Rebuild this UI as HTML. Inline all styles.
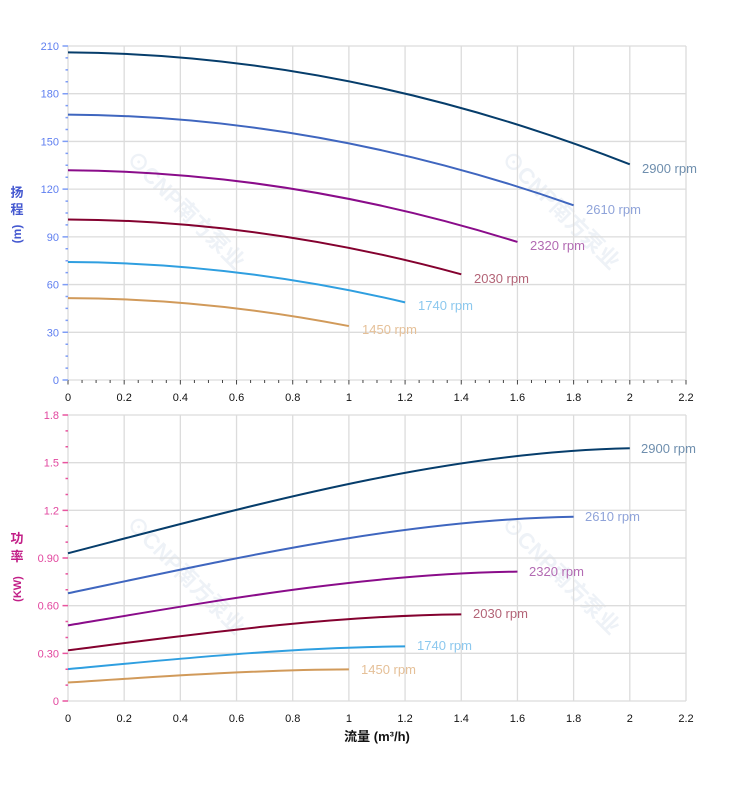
<!DOCTYPE html>
<html><head><meta charset="utf-8"><style>
html,body{margin:0;padding:0;background:#fff;}
svg{display:block;font-family:"Liberation Sans","Noto Sans CJK SC",sans-serif;}
</style></head><body>
<svg width="752" height="797" viewBox="0 0 752 797" xmlns="http://www.w3.org/2000/svg">
<!-- watermarks -->
<g fill="#eef2f7" font-weight="bold" font-size="22" font-family="Liberation Sans,Noto Sans CJK SC,sans-serif">
<text transform="translate(125,160) rotate(45)">⊙CNP南方泵业</text>
<text transform="translate(500,160) rotate(45)">⊙CNP南方泵业</text>
<text transform="translate(125,525) rotate(45)">⊙CNP南方泵业</text>
<text transform="translate(500,525) rotate(45)">⊙CNP南方泵业</text>
</g>
<!-- grids -->
<g stroke="#dcdcdc" stroke-width="1.3" fill="none">
<path d="M68 46V380M124.18 46V380M180.36 46V380M236.54 46V380M292.72 46V380M348.9 46V380M405.08 46V380M461.26 46V380M517.44 46V380M573.62 46V380M629.8 46V380M686 46V380"/>
<path d="M68 46H686M68 93.71H686M68 141.43H686M68 189.14H686M68 236.86H686M68 284.57H686M68 332.29H686M68 380H686"/>
<path d="M68 415V701M124.18 415V701M180.36 415V701M236.54 415V701M292.72 415V701M348.9 415V701M405.08 415V701M461.26 415V701M517.44 415V701M573.62 415V701M629.8 415V701M686 415V701"/>
<path d="M68 415H686M68 462.67H686M68 510.33H686M68 558H686M68 605.67H686M68 653.33H686M68 701H686"/>
</g>
<!-- x ticks -->
<g stroke="#444" stroke-width="1">
<path id="xt" d="M68 380v4.5M82.05 380v3M96.09 380v3M110.14 380v3M124.18 380v4.5M138.23 380v3M152.27 380v3M166.32 380v3M180.36 380v4.5M194.41 380v3M208.45 380v3M222.5 380v3M236.54 380v4.5M250.59 380v3M264.63 380v3M278.68 380v3M292.72 380v4.5M306.77 380v3M320.81 380v3M334.86 380v3M348.9 380v4.5M362.95 380v3M376.99 380v3M391.04 380v3M405.08 380v4.5M419.13 380v3M433.17 380v3M447.22 380v3M461.26 380v4.5M475.31 380v3M489.35 380v3M503.4 380v3M517.44 380v4.5M531.49 380v3M545.53 380v3M559.58 380v3M573.62 380v4.5M587.67 380v3M601.71 380v3M615.76 380v3M629.8 380v4.5M643.85 380v3M657.89 380v3M671.94 380v3M686 380v4.5"/>
</g>
<use href="#xt" transform="translate(0,321)"/>
<!-- y ticks top -->
<g stroke="#7f9df5" stroke-width="1.5">
<path d="M62.5 46H68M62.5 93.71H68M62.5 141.43H68M62.5 189.14H68M62.5 236.86H68M62.5 284.57H68M62.5 332.29H68M62.5 380H68"/>
<path d="M65.5 57.93H68M65.5 69.86H68M65.5 81.79H68M65.5 105.64H68M65.5 117.57H68M65.5 129.5H68M65.5 153.36H68M65.5 165.29H68M65.5 177.21H68M65.5 201.07H68M65.5 213H68M65.5 224.93H68M65.5 248.79H68M65.5 260.71H68M65.5 272.64H68M65.5 296.5H68M65.5 308.43H68M65.5 320.36H68M65.5 344.21H68M65.5 356.14H68M65.5 368.07H68"/>
</g>
<!-- y ticks bottom -->
<g stroke="#e8559f" stroke-width="1.5">
<path d="M62.5 415H68M62.5 462.67H68M62.5 510.33H68M62.5 558H68M62.5 605.67H68M62.5 653.33H68M62.5 701H68"/>
<path d="M65.5 430.89H68M65.5 446.78H68M65.5 478.56H68M65.5 494.44H68M65.5 526.22H68M65.5 542.11H68M65.5 573.89H68M65.5 589.78H68M65.5 621.56H68M65.5 637.44H68M65.5 669.22H68M65.5 685.11H68"/>
</g>
<!-- y labels -->
<g fill="#5f7ff0" font-size="11" text-anchor="end">
<text x="59" y="50">210</text><text x="59" y="97.7">180</text><text x="59" y="145.4">150</text><text x="59" y="193.1">120</text><text x="59" y="240.9">90</text><text x="59" y="288.6">60</text><text x="59" y="336.3">30</text><text x="59" y="384">0</text>
</g>
<g fill="#e2479f" font-size="11" text-anchor="end">
<text x="59" y="419">1.8</text><text x="59" y="466.7">1.5</text><text x="59" y="514.3">1.2</text><text x="59" y="562">0.90</text><text x="59" y="609.7">0.60</text><text x="59" y="657.3">0.30</text><text x="59" y="705">0</text>
</g>
<!-- x labels -->
<g fill="#111" font-size="11" text-anchor="middle">
<text x="68" y="401">0</text><text x="124.18" y="401">0.2</text><text x="180.36" y="401">0.4</text><text x="236.54" y="401">0.6</text><text x="292.72" y="401">0.8</text><text x="348.9" y="401">1</text><text x="405.08" y="401">1.2</text><text x="461.26" y="401">1.4</text><text x="517.44" y="401">1.6</text><text x="573.62" y="401">1.8</text><text x="629.8" y="401">2</text><text x="686" y="401">2.2</text>
<text x="68" y="722">0</text><text x="124.18" y="722">0.2</text><text x="180.36" y="722">0.4</text><text x="236.54" y="722">0.6</text><text x="292.72" y="722">0.8</text><text x="348.9" y="722">1</text><text x="405.08" y="722">1.2</text><text x="461.26" y="722">1.4</text><text x="517.44" y="722">1.6</text><text x="573.62" y="722">1.8</text><text x="629.8" y="722">2</text><text x="686" y="722">2.2</text>
</g>
<text x="377" y="741" font-size="13" font-weight="bold" fill="#111" text-anchor="middle">流量 (m³/h)</text>
<!-- axis titles -->
<g fill="#4458d0" font-size="13" font-weight="bold" text-anchor="middle">
<text x="17" y="197">扬</text><text x="17" y="214">程</text>
<text transform="translate(21,234) rotate(-90)" font-size="12">(m)</text>
</g>
<g fill="#c21f87" font-size="13" font-weight="bold" text-anchor="middle">
<text x="17" y="543">功</text><text x="17" y="561">率</text>
<text transform="translate(21,589) rotate(-90)" font-size="11">(KW)</text>
</g>
<!-- head curves -->
<g fill="none" stroke-width="2">
<path d="M68 52.36Q348.9 54.27 629.8 164.33" stroke="#063d6b"/>
<path d="M68 114.61Q320.81 116.15 573.62 205.3" stroke="#3f66bf"/>
<path d="M68 170.31Q292.72 171.54 517.44 241.98" stroke="#8a0c8a"/>
<path d="M68 219.46Q264.63 220.39 461.26 274.33" stroke="#84012f"/>
<path d="M68 262.05Q236.54 262.73 405.08 302.35" stroke="#2f9fe0"/>
<path d="M68 298.09Q208.45 298.57 348.9 326.08" stroke="#d19a5a"/>
<!-- power curves -->
<path d="M68 553.23C255.27 504.61 442.53 452.05 629.8 448.3" stroke="#063d6b"/>
<path d="M68 593.27C236.54 557.84 405.08 519.51 573.62 516.78" stroke="#3f66bf"/>
<path d="M68 625.34C217.81 600.45 367.63 573.54 517.44 571.61" stroke="#8a0c8a"/>
<path d="M68 650.31C199.09 633.65 330.17 615.61 461.26 614.33" stroke="#84012f"/>
<path d="M68 669.08C180.36 658.58 292.72 647.23 405.08 646.42" stroke="#2f9fe0"/>
<path d="M68 682.52C161.63 676.45 255.27 669.87 348.9 669.41" stroke="#d19a5a"/>
</g>
<!-- rpm labels -->
<g font-size="13">
<text x="642" y="173" fill="#6f8fae">2900 rpm</text>
<text x="586" y="214" fill="#8fa3d9">2610 rpm</text>
<text x="530" y="250" fill="#b36bb3">2320 rpm</text>
<text x="474" y="283" fill="#b36477">2030 rpm</text>
<text x="418" y="310" fill="#8cc8ee">1740 rpm</text>
<text x="362" y="334" fill="#e5c098">1450 rpm</text>
<text x="641" y="453" fill="#6f8fae">2900 rpm</text>
<text x="585" y="521" fill="#8fa3d9">2610 rpm</text>
<text x="529" y="576" fill="#b36bb3">2320 rpm</text>
<text x="473" y="618" fill="#b36477">2030 rpm</text>
<text x="417" y="650" fill="#8cc8ee">1740 rpm</text>
<text x="361" y="674" fill="#e5c098">1450 rpm</text>
</g>
</svg>
</body></html>
